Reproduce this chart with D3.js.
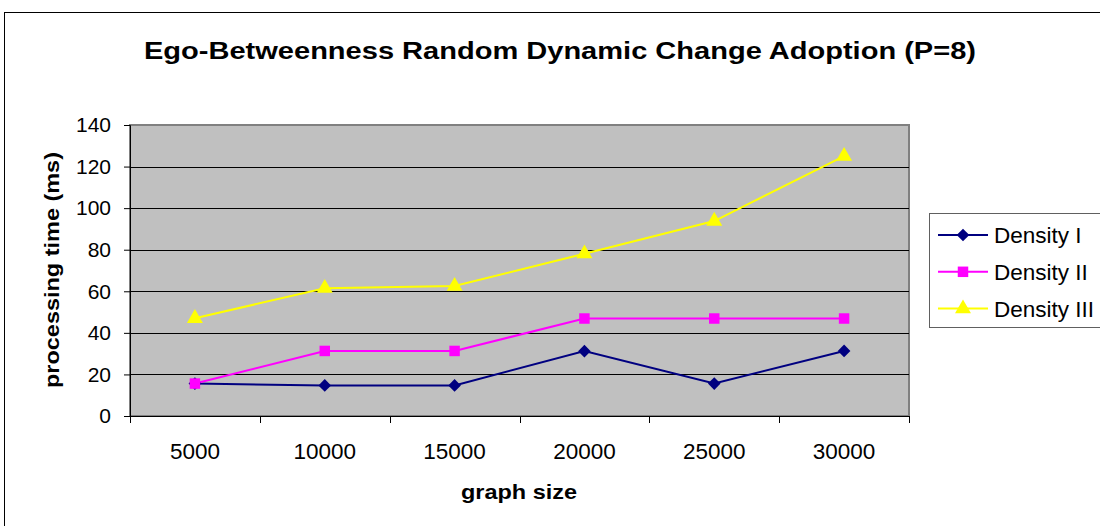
<!DOCTYPE html>
<html>
<head>
<meta charset="utf-8">
<script src="https://cdn.jsdelivr.net/npm/d3@7"></script>
<style>
  html, body { margin: 0; padding: 0; background: #fff; }
  svg { display: block; font-family: "Liberation Sans", Arial, sans-serif; }
</style>
</head>
<body>
<svg id="chart" width="1100" height="526"></svg>
<script>
// Graph sizes on the category axis
const categories = ["5000", "10000", "15000", "20000", "25000", "30000"];
// Processing time (ms) per density level
const densityI   = [15.6, 14.7, 14.7, 31.2, 15.6, 31.3];
const densityII  = [15.6, 31.3, 31.3, 46.9, 46.9, 46.9];
const densityIII = [47.0, 61.5, 62.5, 78.1, 93.8, 125.0];
const seriesNames = ["Density I", "Density II", "Density III"];
const yTicks = [0, 20, 40, 60, 80, 100, 120, 140];

// Square diamond: a square turned by 45 degrees
const squareDiamond = {
  draw(context, size) {
    const r = Math.sqrt(size / 2);
    context.moveTo(0, -r);
    context.lineTo(r, 0);
    context.lineTo(0, r);
    context.lineTo(-r, 0);
    context.closePath();
  }
};

const series = [
  { name: seriesNames[0], values: densityI,   color: "#000080", marker: squareDiamond,    size: 80 },
  { name: seriesNames[1], values: densityII,  color: "#ff00ff", marker: d3.symbolSquare,   size: 110 },
  { name: seriesNames[2], values: densityIII, color: "#ffff00", marker: d3.symbolTriangle, size: 110 }
];

const svg = d3.select("#chart");
const plot = { left: 130, right: 909, top: 125, bottom: 416 };

// Outer chart frame
svg.append("rect")
  .attr("x", 4.5).attr("y", 12.5).attr("width", 1110).attr("height", 530)
  .attr("fill", "#fff").attr("stroke", "#000").attr("stroke-width", 1);

// Title
svg.append("text")
  .attr("x", 560).attr("y", 58.5)
  .attr("text-anchor", "middle")
  .attr("font-size", 23.5).attr("font-weight", "bold")
  .attr("textLength", 832).attr("lengthAdjust", "spacingAndGlyphs")
  .text("Ego-Betweenness Random Dynamic Change Adoption (P=8)");

const x = d3.scaleBand().domain(categories).range([plot.left, plot.right]);
const y = d3.scaleLinear().domain([0, 140]).range([plot.bottom, plot.top]);

// Plot background
svg.append("rect")
  .attr("x", plot.left).attr("y", plot.top)
  .attr("width", plot.right - plot.left).attr("height", plot.bottom - plot.top)
  .attr("fill", "#c0c0c0").attr("stroke", "#808080").attr("stroke-width", 2);

// Horizontal gridlines
svg.append("g")
  .selectAll("line")
  .data(yTicks.filter(t => t > 0 && t < 140))
  .join("line")
  .attr("x1", plot.left).attr("x2", plot.right)
  .attr("y1", d => Math.round(y(d)) + 0.5).attr("y2", d => Math.round(y(d)) + 0.5)
  .attr("stroke", "#000").attr("stroke-width", 1);

// Y axis
const yAxis = svg.append("g")
  .attr("transform", `translate(${plot.left},0)`)
  .call(d3.axisLeft(y).tickValues(yTicks).tickSize(6).tickPadding(13));
yAxis.select(".domain").attr("stroke", "#000");
yAxis.selectAll(".tick line").attr("stroke", "#000");
yAxis.selectAll("text").attr("font-size", 21).attr("fill", "#000")
  .attr("font-family", "'Liberation Sans', Arial, sans-serif");

// X axis: ticks sit on category boundaries
const xAxis = svg.append("g")
  .attr("transform", `translate(0,${plot.bottom})`);
xAxis.append("line")
  .attr("x1", plot.left).attr("x2", plot.right)
  .attr("y1", 0.5).attr("y2", 0.5).attr("stroke", "#000");
const bounds = categories.map(c => x(c)).concat([x(categories[categories.length - 1]) + x.bandwidth()]);
xAxis.selectAll("line.tk")
  .data(bounds)
  .join("line").attr("class", "tk")
  .attr("x1", d => Math.round(d) + 0.5).attr("x2", d => Math.round(d) + 0.5)
  .attr("y1", 0).attr("y2", 7).attr("stroke", "#000");
xAxis.selectAll("text")
  .data(categories)
  .join("text")
  .attr("x", d => x(d) + x.bandwidth() / 2)
  .attr("y", 43)
  .attr("text-anchor", "middle")
  .attr("font-size", 22.5)
  .text(d => d);

// Axis titles
svg.append("text")
  .attr("x", 519).attr("y", 499)
  .attr("text-anchor", "middle")
  .attr("font-size", 21).attr("font-weight", "bold")
  .attr("textLength", 116).attr("lengthAdjust", "spacingAndGlyphs")
  .text("graph size");
svg.append("text")
  .attr("transform", `translate(59,270) rotate(-90)`)
  .attr("text-anchor", "middle")
  .attr("font-size", 21).attr("font-weight", "bold")
  .attr("textLength", 236).attr("lengthAdjust", "spacingAndGlyphs")
  .text("processing time (ms)");

// Series lines and markers
const line = d3.line()
  .x((d, i) => x(categories[i]) + x.bandwidth() / 2)
  .y(d => y(d));

series.forEach(s => {
  svg.append("path")
    .datum(s.values)
    .attr("d", line)
    .attr("fill", "none")
    .attr("stroke", s.color).attr("stroke-width", 2);
});
series.forEach(s => {
  svg.append("g").selectAll("path")
    .data(s.values)
    .join("path")
    .attr("transform", (d, i) => `translate(${x(categories[i]) + x.bandwidth() / 2},${y(d)})`)
    .attr("d", d3.symbol().type(s.marker).size(s.size))
    .attr("fill", s.color);
});

// Legend
const legend = svg.append("g");
legend.append("rect")
  .attr("x", 929.5).attr("y", 213.5).attr("width", 180).attr("height", 114)
  .attr("fill", "#fff").attr("stroke", "#606060");
series.forEach((s, i) => {
  const ly = 235 + i * 36.8;
  legend.append("line")
    .attr("x1", 938).attr("x2", 988).attr("y1", ly).attr("y2", ly)
    .attr("stroke", s.color).attr("stroke-width", 2);
  legend.append("path")
    .attr("transform", `translate(963,${ly})`)
    .attr("d", d3.symbol().type(s.marker).size(s.size))
    .attr("fill", s.color);
  legend.append("text")
    .attr("x", 994).attr("y", ly + 8)
    .attr("font-size", 22.5)
    .text(s.name);
});
</script>
</body>
</html>
